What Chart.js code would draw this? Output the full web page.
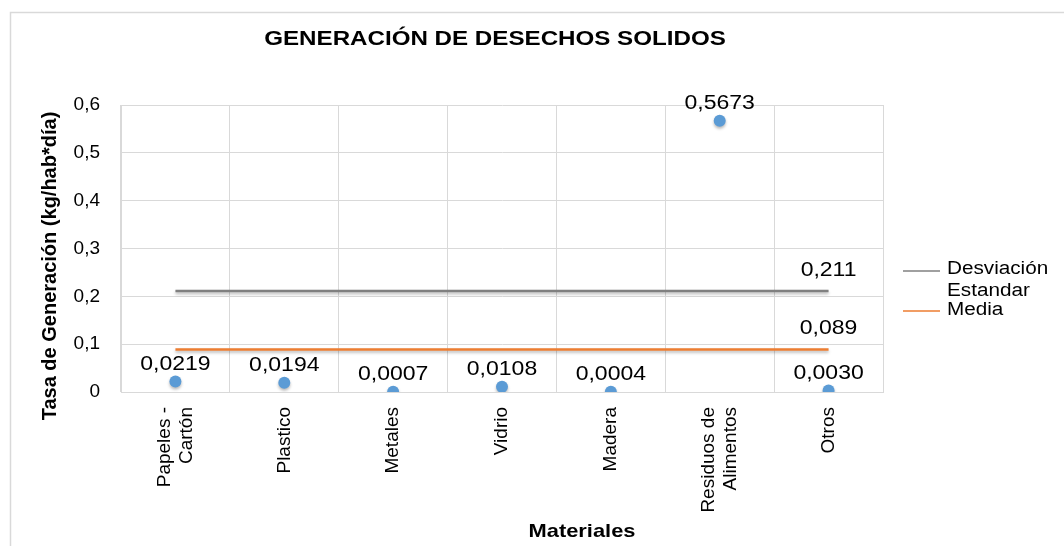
<!DOCTYPE html>
<html>
<head>
<meta charset="utf-8">
<script src="https://cdn.jsdelivr.net/npm/chart.js@4/dist/chart.umd.min.js"></script>
<style>
  html, body { margin: 0; padding: 0; background: #fff; }
  #wrap { width: 1064px; height: 546px; }
</style>
</head>
<body>
<div id="wrap"><canvas id="chart" width="1064" height="546"></canvas></div>
<script>
// Materiales y tasas
const materiales = [["Papeles -", "Cartón"], "Plastico", "Metales", "Vidrio", "Madera", ["Residuos de", "Alimentos"], "Otros"];
const tasas = [0.0219, 0.0194, 0.0007, 0.0108, 0.0004, 0.5673, 0.0030];
const desviacion = [0.211, 0.211, 0.211, 0.211, 0.211, 0.211, 0.211];
const media = [0.089, 0.089, 0.089, 0.089, 0.089, 0.089, 0.089];
const yTicks = [0, 0.1, 0.2, 0.3, 0.4, 0.5, 0.6];

const FONT = "'Liberation Sans', Arial, sans-serif";
const SX = 1.15; // el original tiene el texto algo estirado a lo ancho
const fmt = (v, d) => v.toFixed(d).replace(".", ",");

// texto con estiramiento horizontal
function drawText(ctx, text, x, y, font, align) {
  ctx.save();
  ctx.font = font;
  ctx.textAlign = align || "center";
  ctx.textBaseline = "middle";
  ctx.translate(x, y);
  ctx.scale(SX, 1);
  ctx.fillText(text, 0, 0);
  ctx.restore();
}

// sombra suave para lineas y puntos
const shadowPlugin = {
  id: "shadow",
  beforeDatasetDraw(chart) {
    const ctx = chart.ctx;
    ctx.save();
    ctx.shadowColor = "rgba(0,0,0,0.28)";
    ctx.shadowBlur = 3;
    ctx.shadowOffsetY = 2;
  },
  afterDatasetDraw(chart) {
    chart.ctx.restore();
  }
};

// etiquetas de datos, etiquetas de categoria, titulos, leyenda y marco
const extrasPlugin = {
  id: "extras",
  beforeDraw(chart) {
    const ctx = chart.ctx;
    ctx.save();
    ctx.strokeStyle = "#d9d9d9";
    ctx.lineWidth = 1.5;
    ctx.beginPath();
    ctx.moveTo(10.5, 546);
    ctx.lineTo(10.5, 12.5);
    ctx.lineTo(1064, 12.5);
    ctx.stroke();
    ctx.restore();
  },
  afterDatasetsDraw(chart) {
    const ctx = chart.ctx;
    ctx.save();
    ctx.fillStyle = "#000";

    const labelFont = "20px " + FONT;
    chart.getDatasetMeta(0).data.forEach((pt, i) => {
      drawText(ctx, fmt(tasas[i], 4), pt.x, pt.y - 17, labelFont);
    });
    [[1, desviacion], [2, media]].forEach(([idx, arr]) => {
      const pts = chart.getDatasetMeta(idx).data;
      const last = pts[pts.length - 1];
      drawText(ctx, fmt(arr[arr.length - 1], 3), last.x, last.y - 21, labelFont);
    });

    // etiquetas de categoria, giradas y centradas en su marca
    const xs = chart.scales.x;
    ctx.font = "19px " + FONT;
    ctx.textAlign = "right";
    ctx.textBaseline = "middle";
    const lh = 22;
    materiales.forEach((lab, i) => {
      const lines = Array.isArray(lab) ? lab : [lab];
      const cx = xs.getPixelForValue(i);
      lines.forEach((ln, j) => {
        const off = (j - (lines.length - 1) / 2) * lh;
        ctx.save();
        ctx.translate(cx + off, 407);
        ctx.rotate(-Math.PI / 2);
        ctx.fillText(ln, 0, 0);
        ctx.restore();
      });
    });

    // titulo
    drawText(ctx, "GENERACIÓN DE DESECHOS SOLIDOS", 495, 39, "bold 21px " + FONT);

    // titulos de ejes
    drawText(ctx, "Materiales", 582, 532, "bold 19px " + FONT);
    ctx.save();
    ctx.font = "bold 20px " + FONT;
    ctx.textAlign = "center";
    ctx.translate(50, 266);
    ctx.rotate(-Math.PI / 2);
    ctx.fillText("Tasa de Generación (kg/hab*día)", 0, 0);
    ctx.restore();

    // leyenda
    const legFont = "18px " + FONT;
    ctx.lineWidth = 1.5;
    ctx.strokeStyle = "#808080";
    ctx.beginPath();
    ctx.moveTo(903, 271);
    ctx.lineTo(940, 271);
    ctx.stroke();
    drawText(ctx, "Desviación", 947, 269, legFont, "left");
    drawText(ctx, "Estandar", 947, 291, legFont, "left");
    ctx.strokeStyle = "#ED7D31";
    ctx.beginPath();
    ctx.moveTo(903, 311);
    ctx.lineTo(940, 311);
    ctx.stroke();
    drawText(ctx, "Media", 947, 310, legFont, "left");
    ctx.restore();
  }
};

const ctx = document.getElementById("chart").getContext("2d");
new Chart(ctx, {
  type: "line",
  data: {
    labels: materiales,
    datasets: [
      {
        label: "Tasa",
        data: tasas,
        showLine: false,
        pointRadius: 6,
        pointHoverRadius: 6,
        pointBorderWidth: 0,
        pointBackgroundColor: "#5B9BD5",
        borderColor: "#5B9BD5"
      },
      {
        label: "Desviación Estandar",
        data: desviacion,
        borderColor: "#808080",
        borderWidth: 2.5,
        pointRadius: 0
      },
      {
        label: "Media",
        data: media,
        borderColor: "#ED7D31",
        borderWidth: 2.5,
        pointRadius: 0
      }
    ]
  },
  options: {
    responsive: false,
    animation: false,
    layout: { padding: { left: 0, right: 181, top: 105, bottom: 0 } },
    plugins: {
      legend: { display: false },
      title: { display: false },
      tooltip: { enabled: false }
    },
    scales: {
      x: {
        type: "category",
        offset: true,
        afterFit(scale) { scale.height = 154; },
        grid: { offset: true, color: "#d9d9d9", drawTicks: false },
        border: { color: "#d9d9d9" },
        ticks: { display: false }
      },
      y: {
        min: 0,
        max: 0.6,
        afterFit(scale) { scale.width = 121; },
        afterBuildTicks(scale) { scale.ticks = yTicks.map(v => ({ value: v })); },
        grid: { color: "#d9d9d9", drawTicks: false },
        border: { color: "#d9d9d9" },
        ticks: {
          padding: 21,
          color: "#000",
          font: { family: FONT, size: 19 },
          callback: v => (v === 0 ? "0" : fmt(v, 1))
        }
      }
    }
  },
  plugins: [shadowPlugin, extrasPlugin]
});
</script>
</body>
</html>
